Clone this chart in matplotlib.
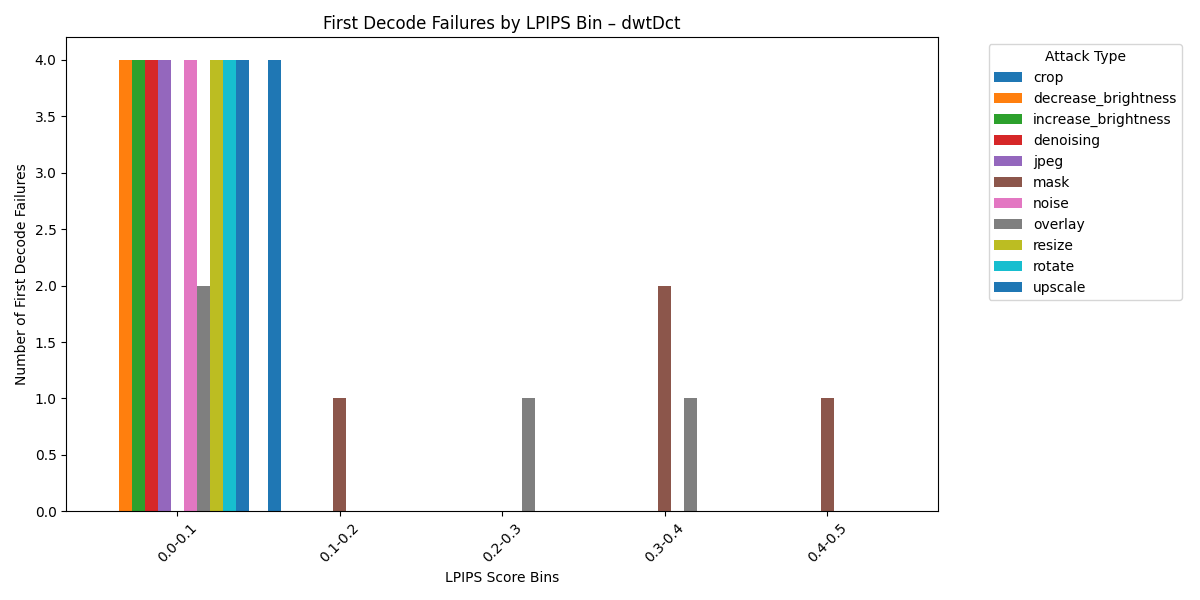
import matplotlib
matplotlib.use("Agg")
import matplotlib.pyplot as plt
import numpy as np

bins = ["0.0-0.1", "0.1-0.2", "0.2-0.3", "0.3-0.4", "0.4-0.5"]
attacks = ["crop", "decrease_brightness", "increase_brightness", "denoising", "jpeg",
           "mask", "noise", "overlay", "resize", "rotate", "upscale"]

crop = [0, 4, 0, 0, 0]
decrease_brightness = [4, 0, 0, 0, 0]
increase_brightness = [4, 0, 0, 0, 0]
denoising = [4, 0, 0, 0, 0]
jpeg = [4, 0, 0, 0, 0]
mask = [0, 1, 0, 2, 1]
noise = [4, 0, 0, 0, 0]
overlay = [2, 0, 1, 1, 0]
resize = [4, 0, 0, 0, 0]
rotate = [4, 0, 0, 0, 0]
upscale = [4, 0, 0, 0, 0]

counts = [crop, decrease_brightness, increase_brightness, denoising, jpeg,
          mask, noise, overlay, resize, rotate, upscale]

fig, ax = plt.subplots(figsize=(12, 6), dpi=100)
x = np.arange(len(bins))
width = 0.08
n = len(attacks)
for i, (name, vals) in enumerate(zip(attacks, counts)):
    offset = (i - (n - 1) / 2) * width
    ax.bar(x + offset, vals, width, label=name)

ax.set_xticks(x)
ax.set_xticklabels(bins, rotation=45)
ax.set_xlabel("LPIPS Score Bins")
ax.set_ylabel("Number of First Decode Failures")
ax.set_title("First Decode Failures by LPIPS Bin – dwtDct")
ax.legend(title="Attack Type", bbox_to_anchor=(1.05, 1), loc="upper left")
plt.tight_layout()
plt.savefig("out.png")
